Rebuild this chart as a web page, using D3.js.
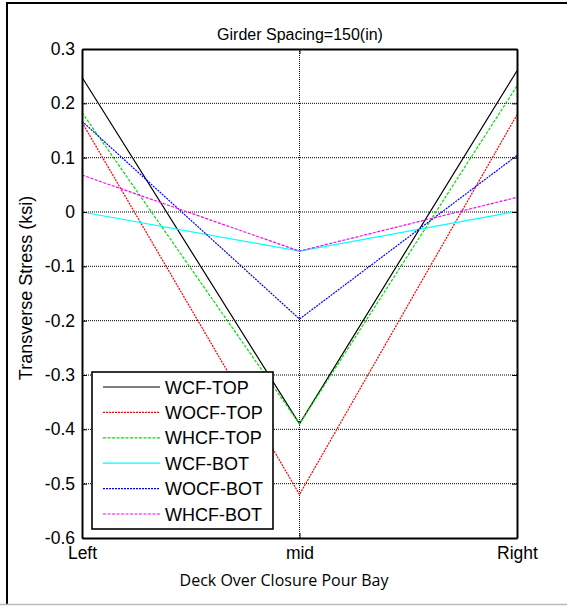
<!DOCTYPE html>
<html>
<head>
<meta charset="utf-8">
<script src="https://cdn.jsdelivr.net/npm/d3@7"></script>
<style>
  body { margin: 0; background: #fff; }
  svg text { font-family: "Liberation Sans", Arial, sans-serif; fill: #000; }
</style>
</head>
<body>
<svg id="chart" width="567" height="606"></svg>
<script>
const positions = ['Left', 'mid', 'Right'];
const seriesNames = ['WCF-TOP', 'WOCF-TOP', 'WHCF-TOP', 'WCF-BOT', 'WOCF-BOT', 'WHCF-BOT'];
const wcfTop = [0.248, -0.39, 0.26];
const wocfTop = [0.165, -0.52, 0.179];
const whcfTop = [0.183, -0.39, 0.232];
const wcfBot = [0.0, -0.072, 0.001];
const wocfBot = [0.167, -0.197, 0.104];
const whcfBot = [0.068, -0.072, 0.027];
const yTicks = [0.3, 0.2, 0.1, 0, -0.1, -0.2, -0.3, -0.4, -0.5, -0.6];

const seriesValues = [wcfTop, wocfTop, whcfTop, wcfBot, wocfBot, whcfBot];
const colors = ['#000000', '#ff0000', '#00e000', '#00ffff', '#0000ff', '#ff00ff'];
const dashes = [null, '2,1', '3,1.5', null, '2,1', '3,1.5'];

const svg = d3.select('#chart');
const margin = { left: 82, right: 50, top: 49, bottom: 68 };
const width = 567, height = 606;

// outer frame like the figure window
svg.append('line').attr('x1', 7).attr('x2', 7).attr('y1', 3).attr('y2', 604)
  .attr('stroke', '#000').attr('stroke-width', 2);
svg.append('line').attr('x1', 6).attr('x2', 567).attr('y1', 3).attr('y2', 3)
  .attr('stroke', '#000').attr('stroke-width', 2);
svg.append('line').attr('x1', 0).attr('x2', 567).attr('y1', 604.5).attr('y2', 604.5)
  .attr('stroke', '#bbb').attr('stroke-width', 1.5);

const x = d3.scalePoint().domain(positions).range([margin.left, width - margin.right]);
const y = d3.scaleLinear().domain([-0.6, 0.3]).range([height - margin.bottom, margin.top]);

// grid
const grid = svg.append('g').attr('class', 'grid');
grid.selectAll('line.h')
  .data(yTicks.filter(d => d > -0.6 && d < 0.3))
  .enter().append('line')
  .attr('x1', x('Left')).attr('x2', x('Right'))
  .attr('y1', d => y(d)).attr('y2', d => y(d))
  .attr('stroke', '#000').attr('stroke-width', 1).attr('stroke-dasharray', '1,1');
grid.append('line')
  .attr('x1', x('mid')).attr('x2', x('mid'))
  .attr('y1', y(0.3)).attr('y2', y(-0.6))
  .attr('stroke', '#000').attr('stroke-width', 1).attr('stroke-dasharray', '1,1');

// series lines
const line = d3.line().x((d, i) => x(positions[i])).y(d => y(d));
svg.append('g').selectAll('path')
  .data(seriesValues)
  .enter().append('path')
  .attr('d', d => line(d))
  .attr('fill', 'none')
  .attr('stroke', (d, i) => colors[i])
  .attr('stroke-width', 1.2)
  .attr('stroke-dasharray', (d, i) => dashes[i]);

// axes box with inward ticks
const axisLeft = d3.axisLeft(y).tickValues(yTicks).tickSizeInner(-5).tickSizeOuter(0).tickPadding(7)
  .tickFormat(d => d === 0 ? '0' : d3.format('.1f')(d).replace('\u2212', '-'));
const gy = svg.append('g').attr('transform', `translate(${x('Left')},0)`).call(axisLeft);
gy.selectAll('text').style('font-size', '17.5px');

const axisRight = d3.axisRight(y).tickValues(yTicks).tickSizeInner(-5).tickSizeOuter(0).tickFormat('');
svg.append('g').attr('transform', `translate(${x('Right')},0)`).call(axisRight);

const axisBottom = d3.axisBottom(x).tickSizeInner(-5).tickSizeOuter(0).tickPadding(9);
const gx = svg.append('g').attr('transform', `translate(0,${y(-0.6)})`).call(axisBottom);
gx.selectAll('text').style('font-size', '17.5px');

const axisTop = d3.axisTop(x).tickSizeInner(-5).tickSizeOuter(0).tickFormat('');
svg.append('g').attr('transform', `translate(0,${y(0.3)})`).call(axisTop);

svg.selectAll('.domain').attr('stroke', '#000').attr('stroke-width', 2);
svg.selectAll('.tick line').attr('stroke', '#000').attr('stroke-width', 1);

// titles
svg.append('text').attr('x', 300).attr('y', 40).attr('text-anchor', 'middle')
  .style('font-size', '16px').text('Girder Spacing=150(in)');
svg.append('text').attr('transform', `translate(32,288) rotate(-90)`)
  .attr('text-anchor', 'middle').style('font-size', '18px').text('Transverse Stress (ksi)');
svg.append('text').attr('x', 284).attr('y', 586).attr('text-anchor', 'middle')
  .style('font-family', '"Open Sans", sans-serif').style('font-size', '16px')
  .text('Deck Over Closure Pour Bay');

// legend
const legend = svg.append('g').attr('transform', 'translate(92,372)');
legend.append('rect').attr('width', 181).attr('height', 157)
  .attr('fill', '#fff').attr('stroke', '#000').attr('stroke-width', 1.6);
const rows = legend.selectAll('g.row')
  .data(seriesNames)
  .enter().append('g')
  .attr('transform', (d, i) => `translate(0,${15 + i * 25.4})`);
rows.append('line').attr('x1', 11).attr('x2', 68).attr('y1', 0).attr('y2', 0)
  .attr('stroke', (d, i) => colors[i]).attr('stroke-width', 1.2)
  .attr('stroke-dasharray', (d, i) => dashes[i]);
rows.append('text').attr('x', 73).attr('y', 6.5).style('font-size', '18px').text(d => d);
</script>
</body>
</html>
